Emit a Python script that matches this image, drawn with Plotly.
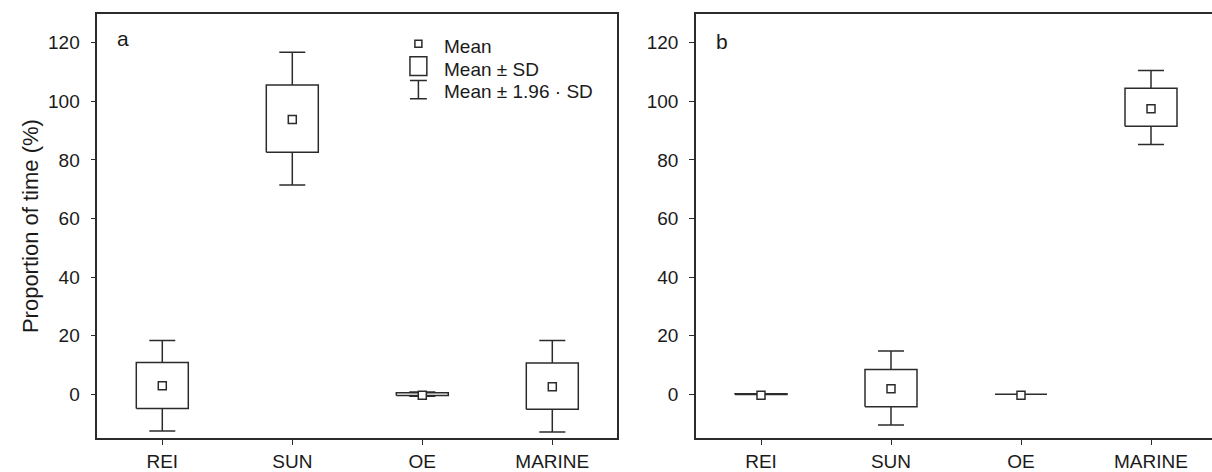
import plotly.graph_objects as go

categories = ["REI", "SUN", "OE", "MARINE"]

# Panel a
a_mean = [2.9, 93.8, -0.4, 2.5]
a_sd_lo = [-4.9, 82.6, -0.5, -5.2]
a_sd_hi = [10.8, 105.6, 0.5, 10.6]
a_ci_lo = [-12.6, 71.4, -0.7, -12.9]
a_ci_hi = [18.3, 116.8, 0.7, 18.3]

# Panel b
b_mean = [-0.4, 1.8, -0.4, 97.5]
b_sd_lo = [-0.15, -4.3, 0.0, 91.5]
b_sd_hi = [0.15, 8.4, 0.0, 104.5]
b_ci_lo = [-0.15, -10.5, 0.0, 85.3]
b_ci_hi = [0.15, 14.7, 0.0, 110.5]

yticks = [0, 20, 40, 60, 80, 100, 120]

FONT = "Liberation Sans, Arial, Helvetica, sans-serif"
LINE = "#2b2b2b"
BOXW = 0.2
CAPW = 0.1

W, H = 1212, 472


def box_paths(means, lo, hi, clo, chi):
    xs, ys = [], []
    for i in range(len(means)):
        xs += [i - BOXW, i + BOXW, i + BOXW, i - BOXW, i - BOXW, None]
        ys += [lo[i], lo[i], hi[i], hi[i], lo[i], None]
        if chi[i] > hi[i]:
            xs += [i, i, None, i - CAPW, i + CAPW, None]
            ys += [hi[i], chi[i], None, chi[i], chi[i], None]
        if clo[i] < lo[i]:
            xs += [i, i, None, i - CAPW, i + CAPW, None]
            ys += [lo[i], clo[i], None, clo[i], clo[i], None]
    return xs, ys


fig = go.Figure()

for (m, lo, hi, clo, chi, xa, ya) in [
    (a_mean, a_sd_lo, a_sd_hi, a_ci_lo, a_ci_hi, "x", "y"),
    (b_mean, b_sd_lo, b_sd_hi, b_ci_lo, b_ci_hi, "x2", "y2"),
]:
    xs, ys = box_paths(m, lo, hi, clo, chi)
    fig.add_trace(go.Scatter(x=xs, y=ys, mode="lines", xaxis=xa, yaxis=ya,
                             line=dict(color=LINE, width=1.5), showlegend=False,
                             hoverinfo="skip"))
    fig.add_trace(go.Scatter(x=list(range(len(m))), y=m, mode="markers", xaxis=xa, yaxis=ya,
                             marker=dict(symbol="square", size=8, color="white",
                                         line=dict(color=LINE, width=1.5)),
                             showlegend=False))

ax_left, ax_right = 97.3, 617.3
bx_left = 696.0
step = (ax_right - ax_left) / 4.0
b_range_hi = -0.5 + (W - bx_left) / step
ytop, ybot = 14.0, 444.0

ydom = [(H - ybot) / H, (H - ytop) / H]

common_x = dict(tickmode="array", tickvals=list(range(len(categories))), ticktext=categories,
                showline=True, linecolor=LINE, linewidth=1.5, mirror=True,
                ticks="outside", ticklen=5, tickcolor=LINE, tickwidth=1,
                showgrid=False, zeroline=False,
                tickfont=dict(family=FONT, size=19, color="#1a1a1a"))
common_y = dict(tickmode="array", tickvals=yticks, range=[-15.1, 129.9],
                showline=True, linecolor=LINE, linewidth=1.5,
                ticks="outside", ticklen=5, tickcolor=LINE, tickwidth=1,
                ticklabelstandoff=7,
                showgrid=False, zeroline=False, domain=ydom,
                tickfont=dict(family=FONT, size=19, color="#1a1a1a"))

fig.update_layout(
    width=W, height=H,
    margin=dict(l=0, r=0, t=0, b=0),
    paper_bgcolor="white", plot_bgcolor="white",
    font=dict(family=FONT, color="#1a1a1a"),
    xaxis=dict(domain=[ax_left / W, ax_right / W], range=[-0.5, 3.5], anchor="y", **common_x),
    yaxis=dict(anchor="x", mirror=True, **common_y),
    xaxis2=dict(domain=[bx_left / W, 1.0], range=[-0.5, b_range_hi], anchor="y2", **common_x),
    yaxis2=dict(anchor="x2", mirror=False, **common_y),
)

fig.add_annotation(x=-0.3, y=121.5, xref="x", yref="y", text="a", showarrow=False,
                   font=dict(family=FONT, size=21, color="#1a1a1a"))
fig.add_annotation(x=-0.3, y=120.5, xref="x2", yref="y2", text="b", showarrow=False,
                   font=dict(family=FONT, size=21, color="#1a1a1a"))

fig.add_annotation(x=30 / W, y=(ydom[0] + ydom[1]) / 2, xref="paper", yref="paper",
                   xanchor="center", yanchor="middle",
                   text="Proportion of time (%)", textangle=-90, showarrow=False,
                   font=dict(family=FONT, size=22, color="#1a1a1a"))

lx = 1.97
fig.add_trace(go.Scatter(x=[lx], y=[119.7], mode="markers", xaxis="x", yaxis="y",
                         marker=dict(symbol="square", size=7, color="white",
                                     line=dict(color=LINE, width=1.5)),
                         showlegend=False, hoverinfo="skip"))
fig.add_shape(type="rect", xref="x", yref="y", x0=lx - 0.065, x1=lx + 0.065, y0=108.8, y1=115.2,
              line=dict(color=LINE, width=1.5), fillcolor="white")
fig.add_shape(type="line", xref="x", yref="y", x0=lx, x1=lx, y0=100.9, y1=107.1,
              line=dict(color=LINE, width=1.5))
fig.add_shape(type="line", xref="x", yref="y", x0=lx - 0.065, x1=lx + 0.065, y0=107.1, y1=107.1,
              line=dict(color=LINE, width=1.5))
fig.add_shape(type="line", xref="x", yref="y", x0=lx - 0.065, x1=lx + 0.065, y0=100.9, y1=100.9,
              line=dict(color=LINE, width=1.5))
for txt, yy in [("Mean", 118.9), ("Mean ± SD", 110.9), ("Mean ± 1.96 · SD", 103.3)]:
    fig.add_annotation(x=2.15, y=yy, xref="x", yref="y", text=txt, showarrow=False,
                       xanchor="left", font=dict(family=FONT, size=19, color="#1a1a1a"))

fig.write_html("out.html", config={"displayModeBar": False},
               post_script="document.body.style.margin='0';document.body.style.overflow='hidden';")
